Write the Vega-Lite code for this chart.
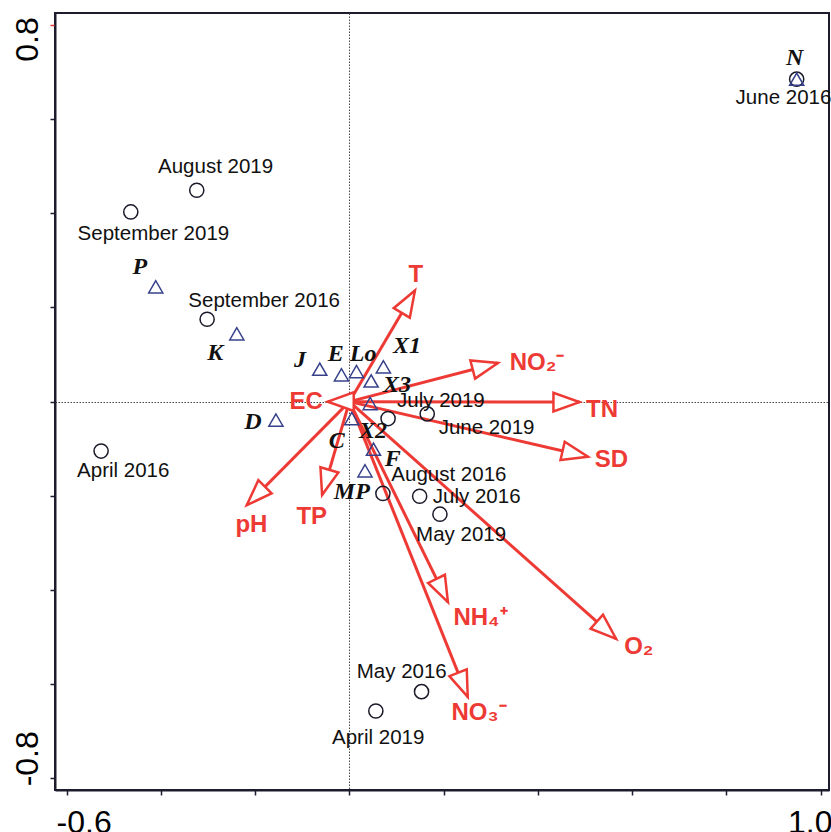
{
  "$schema": "https://vega.github.io/schema/vega-lite/v6.json",
  "width": 774,
  "height": 777,
  "autosize": {"type": "none"},
  "padding": {"left": 55, "top": 13, "right": 2, "bottom": 42},
  "background": "white",
  "config": {"view": {"stroke": "#1c1c2e", "strokeWidth": 2}},
  "datasets": {
    "samples": [
      {"name": "June 2016", "x": 0.949, "y": 0.685},
      {"name": "August 2019", "x": -0.324, "y": 0.449},
      {"name": "September 2019", "x": -0.464, "y": 0.403},
      {"name": "September 2016", "x": -0.302, "y": 0.175},
      {"name": "April 2016", "x": -0.527, "y": -0.105},
      {"name": "July 2019", "x": 0.082, "y": -0.036},
      {"name": "June 2019", "x": 0.165, "y": -0.026},
      {"name": "August 2016", "x": 0.071, "y": -0.195},
      {"name": "July 2016", "x": 0.149, "y": -0.201},
      {"name": "May 2019", "x": 0.192, "y": -0.239},
      {"name": "May 2016", "x": 0.153, "y": -0.616},
      {"name": "April 2019", "x": 0.056, "y": -0.657}
    ],
    "sampleLabels": [
      {"name": "June 2016", "x": 0.921, "y": 0.644},
      {"name": "August 2019", "x": -0.284, "y": 0.499},
      {"name": "September 2019", "x": -0.416, "y": 0.356},
      {"name": "September 2016", "x": -0.181, "y": 0.214},
      {"name": "April 2016", "x": -0.48, "y": -0.147},
      {"name": "July 2019", "x": 0.194, "y": 0.001},
      {"name": "June 2019", "x": 0.291, "y": -0.057},
      {"name": "August 2016", "x": 0.211, "y": -0.156},
      {"name": "July 2016", "x": 0.27, "y": -0.203},
      {"name": "May 2019", "x": 0.237, "y": -0.284},
      {"name": "May 2016", "x": 0.111, "y": -0.574},
      {"name": "April 2019", "x": 0.061, "y": -0.715}
    ],
    "species": [
      {"name": "K", "x": -0.239, "y": 0.144},
      {"name": "J", "x": -0.063, "y": 0.069},
      {"name": "E", "x": -0.017, "y": 0.057},
      {"name": "Lo", "x": 0.015, "y": 0.064},
      {"name": "X1", "x": 0.072, "y": 0.074},
      {"name": "X3", "x": 0.046, "y": 0.044},
      {"name": "X2", "x": 0.044, "y": -0.004},
      {"name": "C", "x": 0.005, "y": -0.036},
      {"name": "F", "x": 0.051, "y": -0.101},
      {"name": "MP", "x": 0.033, "y": -0.147},
      {"name": "D", "x": -0.156, "y": -0.039},
      {"name": "P", "x": -0.411, "y": 0.244},
      {"name": "N", "x": 0.949, "y": 0.685}
    ],
    "speciesLabels": [
      {"name": "K", "x": -0.285, "y": 0.103},
      {"name": "J", "x": -0.105, "y": 0.088},
      {"name": "E", "x": -0.029, "y": 0.101},
      {"name": "Lo", "x": 0.029, "y": 0.101},
      {"name": "X1", "x": 0.122, "y": 0.118},
      {"name": "X3", "x": 0.101, "y": 0.035},
      {"name": "X2", "x": 0.05, "y": -0.062},
      {"name": "C", "x": -0.027, "y": -0.084},
      {"name": "F", "x": 0.092, "y": -0.122},
      {"name": "MP", "x": 0.005, "y": -0.192},
      {"name": "D", "x": -0.205, "y": -0.043},
      {"name": "P", "x": -0.445, "y": 0.286},
      {"name": "N", "x": 0.945, "y": 0.729}
    ],
    "env": [
      {"name": "T", "x": 0.139, "y": 0.236},
      {"name": "NO₂⁻", "x": 0.315, "y": 0.082},
      {"name": "TN", "x": 0.488, "y": -0.001},
      {"name": "SD", "x": 0.506, "y": -0.117},
      {"name": "O₂", "x": 0.566, "y": -0.504},
      {"name": "NH₄⁺", "x": 0.209, "y": -0.426},
      {"name": "NO₃⁻", "x": 0.251, "y": -0.627},
      {"name": "pH", "x": -0.218, "y": -0.22},
      {"name": "TP", "x": -0.058, "y": -0.198},
      {"name": "EC", "x": -0.046, "y": 0.0}
    ],
    "envLabels": [
      {"name": "T", "x": 0.141, "y": 0.269},
      {"name": "NO₂⁻", "x": 0.398, "y": 0.082},
      {"name": "TN", "x": 0.536, "y": -0.018},
      {"name": "SD", "x": 0.556, "y": -0.124},
      {"name": "O₂", "x": 0.614, "y": -0.521},
      {"name": "NH₄⁺", "x": 0.278, "y": -0.46},
      {"name": "NO₃⁻", "x": 0.275, "y": -0.661},
      {"name": "pH", "x": -0.208, "y": -0.262},
      {"name": "TP", "x": -0.08, "y": -0.245},
      {"name": "EC", "x": -0.092, "y": 0.0}
    ]
  },
  "encoding": {
    "x": {
      "field": "x", "type": "quantitative",
      "scale": {"domain": [-0.6248, 1.0176], "nice": false, "zero": false},
      "axis": {
        "title": null,
        "values": [-0.6, -0.4, -0.2, 0, 0.2, 0.4, 0.6, 0.8, 1],
        "labelExpr": "datum.value == -0.6 ? '-0.6' : (datum.value == 1 ? '1.0' : '')",
        "grid": true, "gridDash": [1.5, 1.5], "gridWidth": 1,
        "gridColor": {"condition": {"test": "datum.value == 0", "value": "#444444"}, "value": "transparent"},
        "domainColor": "#1c1c2e", "domainWidth": 2,
        "tickColor": "#1c1c2e", "tickWidth": 1.5, "tickSize": 5,
        "labelFont": "Liberation Sans", "labelFontSize": 32, "labelColor": "black",
        "labelPadding": 12, "labelBaseline": "top", "labelAlign": "center",
        "labelOffset": {"condition": {"test": "datum.value == -0.6", "value": 17}, "value": -11},
        "labelOverlap": false, "labelBound": false, "labelFlush": false
      }
    },
    "y": {
      "field": "y", "type": "quantitative",
      "scale": {"domain": [-0.8249, 0.8255], "nice": false, "zero": false},
      "axis": {
        "title": null,
        "values": [-0.8, -0.6, -0.4, -0.2, 0, 0.2, 0.4, 0.6, 0.8],
        "labelExpr": "datum.value == 0.8 ? '0.8' : (datum.value == -0.8 ? '-0.8' : '')",
        "grid": true, "gridDash": [1.5, 1.5], "gridWidth": 1,
        "gridColor": {"condition": {"test": "datum.value == 0", "value": "#444444"}, "value": "transparent"},
        "domainColor": "#1c1c2e", "domainWidth": 2,
        "tickColor": {"condition": {"test": "datum.value == 0.8", "value": "#ee3a35"}, "value": "#1c1c2e"},
        "tickWidth": 1.5, "tickSize": 5,
        "labelFont": "Liberation Sans", "labelFontSize": 32, "labelColor": "black",
        "labelAngle": 270, "labelAlign": "center", "labelBaseline": "alphabetic",
        "labelPadding": 13,
        "labelOffset": {"condition": {"test": "datum.value == 0.8", "value": 14}, "value": -20},
        "labelOverlap": false, "labelBound": false, "labelFlush": false
      }
    }
  },
  "layer": [
    {
      "data": {"name": "env"},
      "mark": {"type": "rule", "color": "#ee3a35", "strokeWidth": 3},
      "encoding": {
        "x2": {"datum": 0},
        "y2": {"datum": 0}
      }
    },
    {
      "data": {"name": "env"},
      "transform": [{"calculate": "atan2(datum.x, datum.y) * 180 / PI", "as": "ang"}],
      "mark": {"type": "point", "shape": "M0,0L0.36,1L-0.36,1Z", "filled": true, "fill": "white", "stroke": "#ee3a35", "strokeWidth": 2.5, "size": 2700, "opacity": 1},
      "encoding": {
        "angle": {"field": "ang", "type": "quantitative", "scale": null}
      }
    },
    {
      "data": {"name": "samples"},
      "mark": {"type": "point", "shape": "circle", "size": 200, "filled": false, "stroke": "#1a1a2a", "strokeWidth": 1.5, "opacity": 1}
    },
    {
      "data": {"name": "species"},
      "mark": {"type": "point", "shape": "triangle-up", "size": 200, "filled": false, "stroke": "#36418a", "strokeWidth": 1.5, "opacity": 1}
    },
    {
      "data": {"name": "sampleLabels"},
      "mark": {"type": "text", "font": "Liberation Sans", "fontSize": 20.5, "color": "#111", "align": "center", "baseline": "middle"},
      "encoding": {"text": {"field": "name"}}
    },
    {
      "data": {"name": "speciesLabels"},
      "mark": {"type": "text", "font": "Liberation Serif", "fontSize": 24, "fontStyle": "italic", "fontWeight": "bold", "color": "#111", "align": "center", "baseline": "middle"},
      "encoding": {"text": {"field": "name"}}
    },
    {
      "data": {"name": "envLabels"},
      "mark": {"type": "text", "font": "Liberation Sans", "fontSize": 24, "fontWeight": "bold", "color": "#ee3a35", "align": "center", "baseline": "middle"},
      "encoding": {"text": {"field": "name"}}
    }
  ]
}
